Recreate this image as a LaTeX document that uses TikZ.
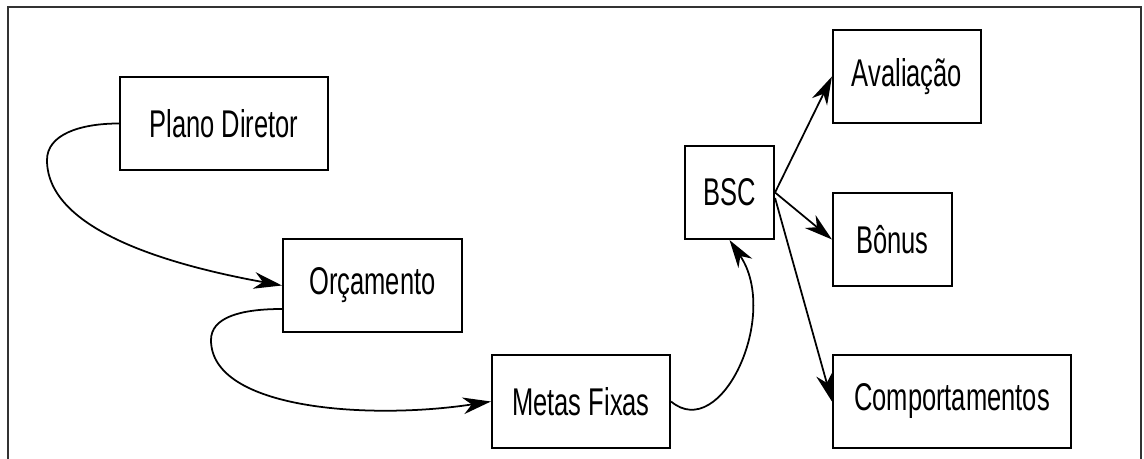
\documentclass[tikz,border=0pt]{standalone}
\usepackage{fontspec}
\setmainfont[FakeStretch=0.66]{Liberation Sans}
\usepackage{tikz}
\usetikzlibrary{arrows.meta}

\begin{document}
\begin{tikzpicture}[->,>={Stealth[length=16pt,width=9.5pt,inset=5pt]},line width=1pt,
                    font=\fontsize{22}{26}\selectfont]
  \tikzstyle{box}=[draw=black,text=black,line width=1.2pt,minimum height=1.86cm,inner sep=2pt]

  \useasboundingbox (0,0) rectangle (22.88,9.18);
  \draw[-,black!80,line width=1.2pt] (0.16,0) |- (22.82,9.04) -- (22.82,0);

  \node[box,minimum width=4.16cm] (PD)  at (4.48,6.71)  {Plano Diretor};
  \node[box,minimum width=3.58cm] (OR)  at (7.45,3.47)  {Orçamento};
  \node[box,minimum width=3.56cm] (MF)  at (11.62,1.15) {Metas Fixas};
  \node[box,minimum width=1.78cm] (BSC) at (14.59,5.33) {BSC};
  \node[box,minimum width=2.96cm] (AV)  at (18.14,7.65) {Avaliação};
  \node[box,minimum width=2.38cm] (BO)  at (17.85,4.39) {Bônus};
  \node[box,minimum width=4.76cm] (CO)  at (19.04,1.15) {Comportamentos};

  \draw (PD.west) .. controls +(-0.8,0) and +(0,0.5) .. (0.94,5.98)
                  .. controls +(0,-1.4) and +(-2.26,0.41) .. (OR.west);
  \draw ([yshift=-0.47cm]OR.west) .. controls +(-0.86,0) and +(0,0.44) .. (4.22,2.38)
                  .. controls +(0,-1.4) and +(-2.4,-0.37) .. (MF.west);
  \draw (MF.east) .. controls +(1.0,-0.84) and +(1.02,-1.5) .. (BSC.south);

  \path (BSC.east) edge (AV.west)
                   edge (BO.west)
        ([yshift=-0.11cm]BSC.east) edge (CO.west);
\end{tikzpicture}
\end{document}
